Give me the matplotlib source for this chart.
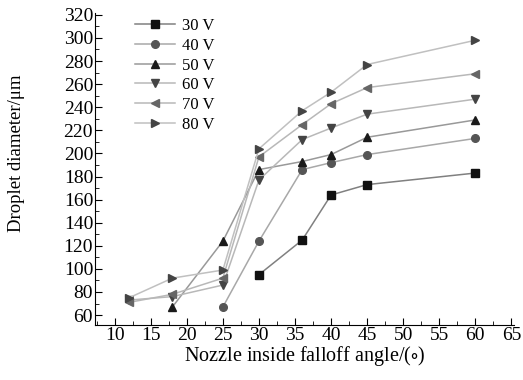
import matplotlib
matplotlib.use('Agg')
import matplotlib.pyplot as plt
from matplotlib.ticker import MultipleLocator

plt.rcParams['font.family'] = ['Liberation Serif', 'DejaVu Serif']
plt.rcParams['mathtext.fontset'] = 'stix'

# data
labels = ['30 V', '40 V', '50 V', '60 V', '70 V', '80 V']
x_30 = [30, 36, 40, 45, 60]
y_30 = [95, 125, 164, 173, 183]
x_40 = [25, 30, 36, 40, 45, 60]
y_40 = [67, 124, 186, 192, 199, 213]
x_50 = [18, 25, 30, 36, 40, 45, 60]
y_50 = [67, 124, 186, 193, 199, 214, 229]
x_all = [12, 18, 25, 30, 36, 40, 45, 60]
y_60 = [73, 76, 86, 177, 212, 222, 234, 247]
y_70 = [71, 78, 92, 197, 225, 243, 257, 269]
y_80 = [75, 92, 99, 204, 237, 253, 277, 298]

xs = [x_30, x_40, x_50, x_all, x_all, x_all]
ys = [y_30, y_40, y_50, y_60, y_70, y_80]
markers = ['s', 'o', '^', 'v', '<', '>']
mcolors = ['#111111', '#555555', '#1a1a1a', '#444444', '#666666', '#444444']
lcolors = ['#808080', '#a8a8a8', '#999999', '#b8b8b8', '#b8b8b8', '#c0c0c0']

fig = plt.figure(figsize=(5.23, 3.8), dpi=100)
ax = fig.add_axes([0.182, 0.145, 0.8, 0.822])

for x, y, m, mc, lc, lab in zip(xs, ys, markers, mcolors, lcolors, labels):
    ax.plot(x, y, color=lc, lw=1.1, marker=m, markersize=5.5,
            markerfacecolor=mc, markeredgecolor=mc, label=lab)

ax.set_xlim(7.3, 65.3)
ax.set_ylim(51.5, 322)
ax.xaxis.set_major_locator(MultipleLocator(5))
ax.xaxis.set_minor_locator(MultipleLocator(2.5))
ax.yaxis.set_major_locator(MultipleLocator(20))
ax.yaxis.set_minor_locator(MultipleLocator(10))
ax.tick_params(which='both', direction='in', labelsize=14, pad=1.5)
ax.tick_params(which='major', length=5)
ax.tick_params(which='minor', length=3)
ax.spines['top'].set_visible(False)
ax.spines['right'].set_visible(False)

ax.set_xlabel(r'Nozzle inside falloff angle/($\circ$)', fontsize=14.5, labelpad=0)
ax.set_ylabel('Droplet diameter/μm', fontsize=13.5)
ax.yaxis.set_label_coords(-0.168, 0.55)

ax.legend(loc='upper left', bbox_to_anchor=(0.06, 1.03), frameon=False,
          fontsize=12, handlelength=2.4, labelspacing=0.22, handletextpad=0.4)

plt.savefig('out.png', dpi=100)
